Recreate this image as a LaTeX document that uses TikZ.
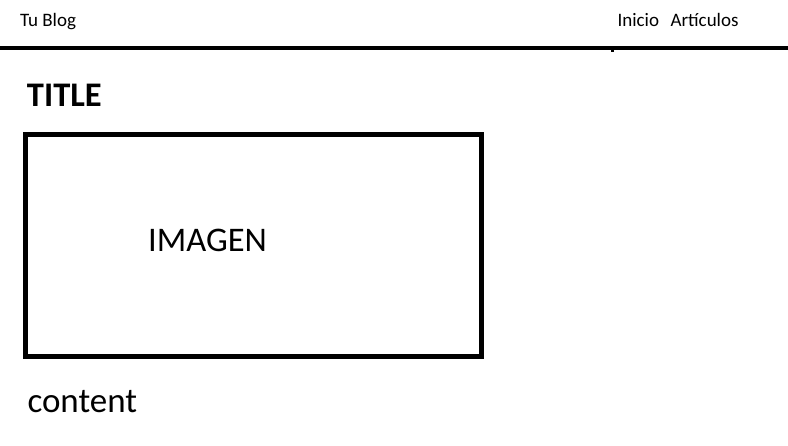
\documentclass[tikz,border=0pt]{standalone}
\usepackage{fontspec}
\setmainfont{Carlito}
\begin{document}
\begin{tikzpicture}[x=1pt,y=-1pt,
  txt/.style={inner sep=0pt,outer sep=0pt,anchor=base west,text=black},
  small/.style={txt,font=\fontsize{19}{21}\selectfont},
  big/.style={txt,font=\fontsize{35}{38}\selectfont}]
\useasboundingbox[fill=white] (0,0) rectangle (788,446);
% header
\node[small] (blog) at (20,27) {Tu Blog};
\node[small] (inicio) at (617.5,27) {Inicio};
\node[small] (art) at (670.5,27) {Artículos};
\coordinate (hl) at (0,48);
\coordinate (hr) at (788,48);
\draw[line width=4pt] (hl) -- (hr);
\fill[black] (611,50) rectangle (614,52);
% title
\node[txt,font=\bfseries\fontsize{34.5}{37}\selectfont] (title) at (27,106.5) {TITLE};
% image box
\coordinate (imgnw) at (25.5,134.5);
\coordinate (imgse) at (481.5,356.5);
\draw[line width=5pt] (imgnw) rectangle (imgse);
\node[txt,anchor=base,font=\fontsize{34.5}{37}\selectfont] (imgtxt) at (207.5,251.5) {IMAGEN};
% content
\node[big] (content) at (27.5,412.5) {content};
\end{tikzpicture}
\end{document}
